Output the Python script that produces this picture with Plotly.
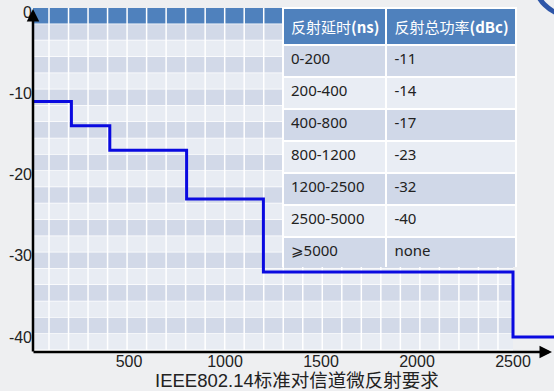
import plotly.graph_objects as go

# ---------------- data ----------------
delay_bounds = [0, 200, 400, 800, 1200, 2500, 5000]      # ns
power_levels = [-11, -14, -17, -23, -32, -40]            # dBc
table_header = ["反射延时<b>(ns)</b>", "反射总功率<b>(dBc)</b>"]
table_delay = ["0-200", "200-400", "400-800", "800-1200", "1200-2500", "2500-5000", "⩾5000"]
table_power = ["-11", "-14", "-17", "-23", "-32", "-40", "none"]
x_ticks = [500, 1000, 1500, 2000, 2500]
y_ticks = [0, -10, -20, -30, -40]
y_ticklabels = ["0", "-10", "-20", "-30", "-40"]
title_text = "IEEE802.14标准对信道微反射要求"

# ---------------- geometry helpers (pixel -> paper) ----------------
W, H = 554, 391
ML, MR, MT, MB = 33, 0, 8, 39
PW, PH = W - ML - MR, H - MT - MB
def px(x):
    return (x - ML) / PW
def py(y):
    return (H - MB - y) / PH

X_RANGE = [0, 2713.5]
Y_RANGE = [-41.85, 0.5]

fig = go.Figure()

# step line
step_x = delay_bounds
step_y = power_levels + [power_levels[-1]]
fig.add_trace(go.Scatter(x=step_x, y=step_y, mode="lines", line_shape="hv",
                         line=dict(color="#0A0AE0", width=3), hoverinfo="skip",
                         showlegend=False))

# table
n = len(table_delay)
row_fill = ["#D0D8E8" if i % 2 == 0 else "#E9EDF4" for i in range(n)]
fig.add_trace(go.Table(
    domain=dict(x=[px(283), px(516)], y=[py(267), 1.0]),
    columnwidth=[103, 129],
    header=dict(values=table_header, fill_color="#4F81BD", align="left",
                height=32, line=dict(color="white", width=2),
                font=dict(family="Noto Sans CJK SC", size=15, color="white")),
    cells=dict(values=[table_delay, table_power], fill_color=[row_fill, row_fill],
               align="left", height=32, line=dict(color="white", width=2),
               font=dict(family="Noto Sans, Noto Sans CJK SC, DejaVu Sans", size=15, color="#222222")),
))

# background "table" pattern behind plot
shapes = []
grid_left, grid_right, grid_top, row_h, n_rows = 33, 513, 8, 16.3, 21
for r in range(n_rows):
    y0 = grid_top + r * row_h
    y1 = y0 + row_h
    if r == 0:
        col = "#4F81BD"
    elif r % 2 == 1:
        col = "#D2D9E8"
    else:
        col = "#E8ECF3"
    shapes.append(dict(type="rect", xref="paper", yref="paper", layer="below",
                       x0=px(grid_left), x1=px(grid_right), y0=py(y1), y1=py(y0),
                       fillcolor=col, line=dict(width=0)))
    shapes.append(dict(type="line", xref="paper", yref="paper", layer="below",
                       x0=px(grid_left), x1=px(grid_right), y0=py(y1), y1=py(y1),
                       line=dict(color="white", width=1.5)))
k = 0
while True:
    xl = 49 + 19.52 * k
    if xl > grid_right - 2:
        break
    shapes.append(dict(type="line", xref="paper", yref="paper", layer="below",
                       x0=px(xl), x1=px(xl), y0=py(grid_top), y1=py(grid_top + n_rows * row_h),
                       line=dict(color="white", width=1.5)))
    k += 1

# corner decoration ring
shapes.append(dict(type="circle", xref="paper", yref="paper", layer="above",
                   x0=px(570 - 35.5), x1=px(570 + 35.5), y0=py(-20 + 35.5), y1=py(-20 - 35.5),
                   line=dict(color="#2E56A8", width=5), fillcolor="rgba(0,0,0,0)"))

annotations = [
    # x axis arrow
    dict(xref="paper", yref="paper", x=px(552), y=0, ax=-(552 - ML + 1), ay=0,
         showarrow=True, arrowhead=2, arrowsize=1, arrowwidth=2.5, arrowcolor="black", text=""),
    # y axis arrow
    dict(xref="paper", yref="paper", x=0, y=py(9), ax=0, ay=(H - MB - 9 + 1),
         showarrow=True, arrowhead=2, arrowsize=1, arrowwidth=2.5, arrowcolor="black", text=""),
    dict(xref="paper", yref="paper", x=px(296.5), y=py(380.5), xanchor="center", yanchor="middle",
         text=title_text, showarrow=False, height=19, valign="middle",
         font=dict(family="Liberation Sans, Noto Sans CJK SC", size=18.5, color="#222222")),
]

fig.update_layout(
    width=W, height=H,
    margin=dict(l=ML, r=MR, t=MT, b=MB, pad=0),
    paper_bgcolor="#EEEFF1", plot_bgcolor="rgba(0,0,0,0)",
    shapes=shapes, annotations=annotations, showlegend=False,
    xaxis=dict(range=X_RANGE, tickvals=x_ticks, showgrid=False, zeroline=False,
               showline=False, ticks="", fixedrange=True, ticklabelstandoff=-2,
               tickfont=dict(family="Liberation Sans", size=16, color="#222222")),
    yaxis=dict(range=Y_RANGE, tickvals=y_ticks, ticktext=y_ticklabels, showgrid=False,
               zeroline=False, showline=False, ticks="", fixedrange=True,
               tickfont=dict(family="Liberation Sans", size=16, color="#222222")),
)

fig.write_html("out.html", config={"displayModeBar": False},
               post_script="document.body.style.margin='0';document.body.style.overflow='hidden';")
